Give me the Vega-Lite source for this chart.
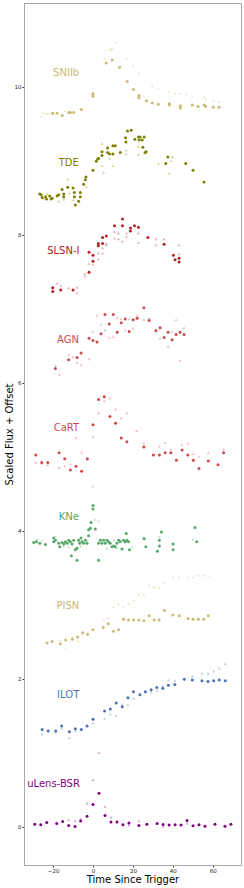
{
"$schema": "https://vega.github.io/schema/vega-lite/v6.json",
"autosize": "none",
"width": 217,
"height": 862,
"padding": {"left": 24, "top": 3, "right": 3, "bottom": 23},
"config": {
  "font": "DejaVu Sans",
  "view": {"stroke": "#a8a8a8", "strokeWidth": 1},
  "axis": {"grid": false, "domainColor": "#a8a8a8", "tickColor": "#333", "tickSize": 2, "labelFontSize": 5.5, "labelColor": "#222", "titleFontSize": 10, "titleFontWeight": "normal", "titleColor": "#000", "labelFont": "DejaVu Sans", "titleFont": "DejaVu Sans"}
},
"datasets": {
"pts": [
{"c":"SNIIb","k":"o","t":-20.2,"y":9.64},{"c":"SNIIb","k":"o","t":-18,"y":9.64},{"c":"SNIIb","k":"o","t":-15.5,"y":9.61},{"c":"SNIIb","k":"o","t":-12.2,"y":9.65},{"c":"SNIIb","k":"o","t":-11.3,"y":9.65},{"c":"SNIIb","k":"o","t":-9.7,"y":9.65},{"c":"SNIIb","k":"o","t":-5.8,"y":9.69},{"c":"SNIIb","k":"o","t":0,"y":9.9},{"c":"SNIIb","k":"o","t":0,"y":9.87},{"c":"SNIIb","k":"o","t":6.6,"y":10.32},{"c":"SNIIb","k":"o","t":9.65,"y":10.36},{"c":"SNIIb","k":"o","t":13.3,"y":10.26},{"c":"SNIIb","k":"o","t":17.2,"y":10.07},{"c":"SNIIb","k":"o","t":20.2,"y":9.96},{"c":"SNIIb","k":"o","t":23,"y":9.88},{"c":"SNIIb","k":"o","t":23,"y":9.85},{"c":"SNIIb","k":"o","t":26.8,"y":9.81},{"c":"SNIIb","k":"o","t":29.7,"y":9.78},{"c":"SNIIb","k":"o","t":32.7,"y":9.76},{"c":"SNIIb","k":"o","t":38.3,"y":9.77},{"c":"SNIIb","k":"o","t":38.3,"y":9.75},{"c":"SNIIb","k":"o","t":43.8,"y":9.74},{"c":"SNIIb","k":"o","t":43.8,"y":9.71},{"c":"SNIIb","k":"o","t":49.8,"y":9.75},{"c":"SNIIb","k":"o","t":52.7,"y":9.73},{"c":"SNIIb","k":"o","t":55.7,"y":9.75},{"c":"SNIIb","k":"o","t":56.5,"y":9.73},{"c":"SNIIb","k":"o","t":60.3,"y":9.72},{"c":"SNIIb","k":"o","t":63.2,"y":9.72},
{"c":"SNIIb","k":"t","t":-26,"y":9.6},{"c":"SNIIb","k":"t","t":-24.7,"y":9.64},{"c":"SNIIb","k":"t","t":-23,"y":9.64},{"c":"SNIIb","k":"t","t":-21.7,"y":9.64},{"c":"SNIIb","k":"t","t":-14.2,"y":9.67},{"c":"SNIIb","k":"t","t":-12.2,"y":9.66},{"c":"SNIIb","k":"t","t":0,"y":9.92},{"c":"SNIIb","k":"t","t":5.65,"y":10.38},{"c":"SNIIb","k":"t","t":8.65,"y":10.5},{"c":"SNIIb","k":"t","t":9.5,"y":10.52},{"c":"SNIIb","k":"t","t":11.5,"y":10.6},{"c":"SNIIb","k":"t","t":17.2,"y":10.38},{"c":"SNIIb","k":"t","t":20,"y":10.28},{"c":"SNIIb","k":"t","t":23,"y":10.18},{"c":"SNIIb","k":"t","t":29.7,"y":10.01},{"c":"SNIIb","k":"t","t":32.7,"y":9.98},{"c":"SNIIb","k":"t","t":38.3,"y":9.93},{"c":"SNIIb","k":"t","t":41.2,"y":9.91},{"c":"SNIIb","k":"t","t":43.8,"y":9.91},{"c":"SNIIb","k":"t","t":46.8,"y":9.9},{"c":"SNIIb","k":"t","t":49.8,"y":9.86},{"c":"SNIIb","k":"t","t":55.7,"y":9.86},{"c":"SNIIb","k":"t","t":56.5,"y":9.83},{"c":"SNIIb","k":"t","t":60.3,"y":9.81},{"c":"SNIIb","k":"t","t":63.2,"y":9.8},

{"c":"TDE","k":"o","t":-26.7,"y":8.55},{"c":"TDE","k":"o","t":-26,"y":8.54},{"c":"TDE","k":"o","t":-25.5,"y":8.5},{"c":"TDE","k":"o","t":-23.8,"y":8.51},{"c":"TDE","k":"o","t":-23.3,"y":8.48},{"c":"TDE","k":"o","t":-21.7,"y":8.52},{"c":"TDE","k":"o","t":-21,"y":8.48},{"c":"TDE","k":"o","t":-20.5,"y":8.49},{"c":"TDE","k":"o","t":-18,"y":8.52},{"c":"TDE","k":"o","t":-17.2,"y":8.54},{"c":"TDE","k":"o","t":-14.7,"y":8.55},{"c":"TDE","k":"o","t":-14.7,"y":8.51},{"c":"TDE","k":"o","t":-15.5,"y":8.61},{"c":"TDE","k":"o","t":-12.7,"y":8.64},{"c":"TDE","k":"o","t":-10,"y":8.63},{"c":"TDE","k":"o","t":-9.35,"y":8.57},{"c":"TDE","k":"o","t":-9.35,"y":8.51},{"c":"TDE","k":"o","t":-8.85,"y":8.4},{"c":"TDE","k":"o","t":-7.2,"y":8.45},{"c":"TDE","k":"o","t":-6.35,"y":8.57},{"c":"TDE","k":"o","t":-6.35,"y":8.51},{"c":"TDE","k":"o","t":-4.7,"y":8.68},{"c":"TDE","k":"o","t":-3.85,"y":8.74},{"c":"TDE","k":"o","t":-3.5,"y":8.78},{"c":"TDE","k":"o","t":0,"y":8.87},{"c":"TDE","k":"o","t":1.65,"y":8.99},{"c":"TDE","k":"o","t":2.3,"y":9.02},{"c":"TDE","k":"o","t":2.8,"y":9.03},{"c":"TDE","k":"o","t":4.5,"y":9.07},{"c":"TDE","k":"o","t":4.5,"y":9.12},{"c":"TDE","k":"o","t":7.3,"y":9.17},{"c":"TDE","k":"o","t":7.3,"y":9.11},{"c":"TDE","k":"o","t":8.3,"y":9.09},{"c":"TDE","k":"o","t":10,"y":9.2},{"c":"TDE","k":"o","t":11.15,"y":9.2},{"c":"TDE","k":"o","t":10,"y":9.09},{"c":"TDE","k":"o","t":13.65,"y":9.11},{"c":"TDE","k":"o","t":16.5,"y":9.25},{"c":"TDE","k":"o","t":16.3,"y":9.31},{"c":"TDE","k":"o","t":17.3,"y":9.4},{"c":"TDE","k":"o","t":19.15,"y":9.41},{"c":"TDE","k":"o","t":21,"y":9.29},{"c":"TDE","k":"o","t":22.8,"y":9.32},{"c":"TDE","k":"o","t":23.65,"y":9.32},{"c":"TDE","k":"o","t":25.65,"y":9.32},{"c":"TDE","k":"o","t":23.15,"y":9.28},{"c":"TDE","k":"o","t":24.65,"y":9.28},{"c":"TDE","k":"o","t":25,"y":9.18},{"c":"TDE","k":"o","t":26.15,"y":9.11},{"c":"TDE","k":"o","t":26.65,"y":9.12},{"c":"TDE","k":"o","t":36.5,"y":8.96},{"c":"TDE","k":"o","t":37.5,"y":9.05},{"c":"TDE","k":"o","t":46.5,"y":8.96},{"c":"TDE","k":"o","t":50.15,"y":8.87},{"c":"TDE","k":"o","t":55.65,"y":8.71},
{"c":"TDE","k":"t","t":-24.7,"y":8.49},{"c":"TDE","k":"t","t":-23,"y":8.55},{"c":"TDE","k":"t","t":-17.2,"y":8.45},{"c":"TDE","k":"t","t":-14.7,"y":8.48},{"c":"TDE","k":"t","t":-12.7,"y":8.75},{"c":"TDE","k":"t","t":-11.7,"y":8.56},{"c":"TDE","k":"t","t":-10,"y":8.47},{"c":"TDE","k":"t","t":-3.35,"y":8.65},{"c":"TDE","k":"t","t":4.5,"y":8.93},{"c":"TDE","k":"t","t":5.3,"y":8.84},{"c":"TDE","k":"t","t":4.5,"y":9.23},{"c":"TDE","k":"t","t":8.3,"y":9.03},{"c":"TDE","k":"t","t":10,"y":8.93},{"c":"TDE","k":"t","t":16.65,"y":9.14},{"c":"TDE","k":"t","t":16.65,"y":9.09},{"c":"TDE","k":"t","t":22.8,"y":9.19},{"c":"TDE","k":"t","t":22.8,"y":9.08},{"c":"TDE","k":"t","t":25.65,"y":9.1},{"c":"TDE","k":"t","t":32.8,"y":8.96},{"c":"TDE","k":"t","t":38.3,"y":8.83},{"c":"TDE","k":"t","t":39.15,"y":9.0},{"c":"TDE","k":"t","t":40,"y":9.05},

{"c":"SLSN-I","k":"o","t":-20.2,"y":7.28},{"c":"SLSN-I","k":"o","t":-20.2,"y":7.23},{"c":"SLSN-I","k":"o","t":-16.2,"y":7.25},{"c":"SLSN-I","k":"o","t":-10,"y":7.25},{"c":"SLSN-I","k":"o","t":-2,"y":7.49},{"c":"SLSN-I","k":"o","t":0,"y":7.64},{"c":"SLSN-I","k":"o","t":0,"y":7.72},{"c":"SLSN-I","k":"o","t":-2,"y":7.76},{"c":"SLSN-I","k":"o","t":2.65,"y":7.85},{"c":"SLSN-I","k":"o","t":2.65,"y":7.88},{"c":"SLSN-I","k":"o","t":4.8,"y":7.88},{"c":"SLSN-I","k":"o","t":4.8,"y":7.96},{"c":"SLSN-I","k":"o","t":6.65,"y":7.98},{"c":"SLSN-I","k":"o","t":10.8,"y":8.12},{"c":"SLSN-I","k":"o","t":14.8,"y":8.21},{"c":"SLSN-I","k":"o","t":14.8,"y":8.12},{"c":"SLSN-I","k":"o","t":18.8,"y":8.09},{"c":"SLSN-I","k":"o","t":18.8,"y":8.05},{"c":"SLSN-I","k":"o","t":20.8,"y":8.12},{"c":"SLSN-I","k":"o","t":22.8,"y":8.1},{"c":"SLSN-I","k":"o","t":27.5,"y":7.96},{"c":"SLSN-I","k":"o","t":35.65,"y":7.87},{"c":"SLSN-I","k":"o","t":40.3,"y":7.72},{"c":"SLSN-I","k":"o","t":41.15,"y":7.66},{"c":"SLSN-I","k":"o","t":43.15,"y":7.68},{"c":"SLSN-I","k":"o","t":43.15,"y":7.63},
{"c":"SLSN-I","k":"t","t":-18,"y":7.34},{"c":"SLSN-I","k":"t","t":-16.2,"y":7.31},{"c":"SLSN-I","k":"t","t":-12.2,"y":7.28},{"c":"SLSN-I","k":"t","t":-8,"y":7.29},{"c":"SLSN-I","k":"t","t":-8,"y":7.21},{"c":"SLSN-I","k":"t","t":-4,"y":7.47},{"c":"SLSN-I","k":"t","t":-4,"y":7.44},{"c":"SLSN-I","k":"t","t":-2,"y":7.61},{"c":"SLSN-I","k":"t","t":0,"y":7.6},{"c":"SLSN-I","k":"t","t":2.65,"y":7.67},{"c":"SLSN-I","k":"t","t":2.65,"y":7.75},{"c":"SLSN-I","k":"t","t":4.8,"y":7.75},{"c":"SLSN-I","k":"t","t":4.8,"y":7.82},{"c":"SLSN-I","k":"t","t":6.65,"y":7.88},{"c":"SLSN-I","k":"t","t":6.65,"y":7.86},{"c":"SLSN-I","k":"t","t":10.8,"y":8.04},{"c":"SLSN-I","k":"t","t":10.8,"y":7.95},{"c":"SLSN-I","k":"t","t":12.8,"y":8.02},{"c":"SLSN-I","k":"t","t":12.8,"y":7.94},{"c":"SLSN-I","k":"t","t":14.8,"y":7.91},{"c":"SLSN-I","k":"t","t":16.8,"y":8.02},{"c":"SLSN-I","k":"t","t":16.8,"y":7.97},{"c":"SLSN-I","k":"t","t":22.8,"y":8.02},{"c":"SLSN-I","k":"t","t":22.8,"y":7.89},{"c":"SLSN-I","k":"t","t":31.5,"y":7.94},{"c":"SLSN-I","k":"t","t":31.5,"y":7.86},{"c":"SLSN-I","k":"t","t":35.65,"y":7.94},{"c":"SLSN-I","k":"t","t":43.15,"y":7.86},{"c":"SLSN-I","k":"t","t":43.15,"y":7.74},

{"c":"AGN","k":"o","t":-18.85,"y":6.19},{"c":"AGN","k":"o","t":-12.2,"y":6.31},{"c":"AGN","k":"o","t":-8,"y":6.34},{"c":"AGN","k":"o","t":-6,"y":6.4},{"c":"AGN","k":"o","t":-2,"y":6.6},{"c":"AGN","k":"o","t":0,"y":6.57},{"c":"AGN","k":"o","t":2,"y":6.55},{"c":"AGN","k":"o","t":4,"y":6.66},{"c":"AGN","k":"o","t":6,"y":6.92},{"c":"AGN","k":"o","t":8.15,"y":6.79},{"c":"AGN","k":"o","t":10.15,"y":6.92},{"c":"AGN","k":"o","t":12.15,"y":6.68},{"c":"AGN","k":"o","t":14.15,"y":6.81},{"c":"AGN","k":"o","t":16.15,"y":6.86},{"c":"AGN","k":"o","t":18.15,"y":6.69},{"c":"AGN","k":"o","t":20.15,"y":6.85},{"c":"AGN","k":"o","t":22.15,"y":6.87},{"c":"AGN","k":"o","t":25.5,"y":7.01},{"c":"AGN","k":"o","t":28.15,"y":6.84},{"c":"AGN","k":"o","t":31.5,"y":6.7},{"c":"AGN","k":"o","t":33.65,"y":6.74},{"c":"AGN","k":"o","t":35.65,"y":6.61},{"c":"AGN","k":"o","t":37.65,"y":6.68},{"c":"AGN","k":"o","t":39.65,"y":6.58},{"c":"AGN","k":"o","t":41.65,"y":6.65},{"c":"AGN","k":"o","t":43.65,"y":6.68},{"c":"AGN","k":"o","t":45.65,"y":6.65},
{"c":"AGN","k":"t","t":-18.85,"y":6.23},{"c":"AGN","k":"t","t":-16.7,"y":6.11},{"c":"AGN","k":"t","t":-12.2,"y":6.38},{"c":"AGN","k":"t","t":-10,"y":6.35},{"c":"AGN","k":"t","t":-8,"y":6.27},{"c":"AGN","k":"t","t":-6,"y":6.24},{"c":"AGN","k":"t","t":-2,"y":6.32},{"c":"AGN","k":"t","t":0,"y":6.69},{"c":"AGN","k":"t","t":2,"y":6.91},{"c":"AGN","k":"t","t":4,"y":6.79},{"c":"AGN","k":"t","t":6,"y":6.71},{"c":"AGN","k":"t","t":8.15,"y":6.61},{"c":"AGN","k":"t","t":10.15,"y":6.62},{"c":"AGN","k":"t","t":12.15,"y":6.88},{"c":"AGN","k":"t","t":14.15,"y":6.86},{"c":"AGN","k":"t","t":16.15,"y":6.71},{"c":"AGN","k":"t","t":18.15,"y":6.86},{"c":"AGN","k":"t","t":20.15,"y":6.73},{"c":"AGN","k":"t","t":22.15,"y":6.91},{"c":"AGN","k":"t","t":25.5,"y":6.85},{"c":"AGN","k":"t","t":28.15,"y":6.87},{"c":"AGN","k":"t","t":31.5,"y":6.72},{"c":"AGN","k":"t","t":33.65,"y":6.6},{"c":"AGN","k":"t","t":37.65,"y":6.49},{"c":"AGN","k":"t","t":39.65,"y":6.69},{"c":"AGN","k":"t","t":41.65,"y":6.85},{"c":"AGN","k":"t","t":43.65,"y":6.3},{"c":"AGN","k":"t","t":45.65,"y":6.74},

{"c":"CaRT","k":"o","t":2.8,"y":5.77},{"c":"CaRT","k":"o","t":5.65,"y":5.81},{"c":"CaRT","k":"o","t":8.5,"y":5.54},{"c":"CaRT","k":"o","t":11.3,"y":5.45},{"c":"CaRT","k":"o","t":14.15,"y":5.25},{"c":"CaRT","k":"o","t":17,"y":5.2},{"c":"CaRT","k":"o","t":0,"y":5.43},{"c":"CaRT","k":"o","t":25.5,"y":5.13},{"c":"CaRT","k":"o","t":-28.7,"y":5.02},{"c":"CaRT","k":"o","t":-25.7,"y":4.92},{"c":"CaRT","k":"o","t":-22.7,"y":4.92},{"c":"CaRT","k":"o","t":-17,"y":5.05},{"c":"CaRT","k":"o","t":-14.2,"y":4.97},{"c":"CaRT","k":"o","t":-11.35,"y":4.82},{"c":"CaRT","k":"o","t":-8.5,"y":4.87},{"c":"CaRT","k":"o","t":-5.7,"y":4.8},{"c":"CaRT","k":"o","t":-2.85,"y":4.97},{"c":"CaRT","k":"o","t":30.3,"y":5.02},{"c":"CaRT","k":"o","t":33.3,"y":5.02},{"c":"CaRT","k":"o","t":36.15,"y":5.05},{"c":"CaRT","k":"o","t":39,"y":5.05},{"c":"CaRT","k":"o","t":41.8,"y":4.95},{"c":"CaRT","k":"o","t":44.65,"y":5.09},{"c":"CaRT","k":"o","t":47.5,"y":5.02},{"c":"CaRT","k":"o","t":50.3,"y":4.95},{"c":"CaRT","k":"o","t":53.15,"y":4.84},{"c":"CaRT","k":"o","t":57.8,"y":4.94},{"c":"CaRT","k":"o","t":62.65,"y":4.89},{"c":"CaRT","k":"o","t":65.5,"y":5.05},
{"c":"CaRT","k":"t","t":2.8,"y":5.59},{"c":"CaRT","k":"t","t":5.65,"y":5.75},{"c":"CaRT","k":"t","t":8.5,"y":5.79},{"c":"CaRT","k":"t","t":11.3,"y":5.64},{"c":"CaRT","k":"t","t":14.15,"y":5.52},{"c":"CaRT","k":"t","t":17,"y":5.59},{"c":"CaRT","k":"t","t":0,"y":5.27},{"c":"CaRT","k":"t","t":-8.5,"y":5.26},{"c":"CaRT","k":"t","t":21.8,"y":5.35},{"c":"CaRT","k":"t","t":25.5,"y":5.18},{"c":"CaRT","k":"t","t":33.3,"y":5.14},{"c":"CaRT","k":"t","t":36.15,"y":5.19},{"c":"CaRT","k":"t","t":44.65,"y":5.16},{"c":"CaRT","k":"t","t":47.5,"y":5.18},{"c":"CaRT","k":"t","t":65.5,"y":5.1},{"c":"CaRT","k":"t","t":-28.7,"y":4.92},{"c":"CaRT","k":"t","t":-25.7,"y":4.91},{"c":"CaRT","k":"t","t":-22.7,"y":4.89},{"c":"CaRT","k":"t","t":-17,"y":4.85},{"c":"CaRT","k":"t","t":-14.2,"y":4.87},{"c":"CaRT","k":"t","t":-11.35,"y":4.9},{"c":"CaRT","k":"t","t":-5.7,"y":5.06},{"c":"CaRT","k":"t","t":-2.85,"y":4.96},{"c":"CaRT","k":"t","t":39,"y":5.1},{"c":"CaRT","k":"t","t":53.15,"y":5.0},{"c":"CaRT","k":"t","t":57.8,"y":5.05},{"c":"CaRT","k":"t","t":50.3,"y":5.04},

{"c":"KNe","k":"o","t":-29.7,"y":3.84},{"c":"KNe","k":"o","t":-28.35,"y":3.85},{"c":"KNe","k":"o","t":-26.7,"y":3.83},{"c":"KNe","k":"o","t":-23.85,"y":3.81},{"c":"KNe","k":"o","t":-19.7,"y":3.9},{"c":"KNe","k":"o","t":-19.7,"y":3.85},{"c":"KNe","k":"o","t":-18.85,"y":3.87},{"c":"KNe","k":"o","t":-17.2,"y":3.83},{"c":"KNe","k":"o","t":-16.7,"y":3.78},{"c":"KNe","k":"o","t":-15.5,"y":3.84},{"c":"KNe","k":"o","t":-14.7,"y":3.82},{"c":"KNe","k":"o","t":-13.85,"y":3.85},{"c":"KNe","k":"o","t":-13,"y":3.83},{"c":"KNe","k":"o","t":-12.2,"y":3.87},{"c":"KNe","k":"o","t":-11.35,"y":3.85},{"c":"KNe","k":"o","t":-10.5,"y":3.82},{"c":"KNe","k":"o","t":-9.7,"y":3.87},{"c":"KNe","k":"o","t":-8.85,"y":3.74},{"c":"KNe","k":"o","t":-8,"y":3.76},{"c":"KNe","k":"o","t":-7.2,"y":3.87},{"c":"KNe","k":"o","t":-6.7,"y":3.83},{"c":"KNe","k":"o","t":-6,"y":3.9},{"c":"KNe","k":"o","t":-5.5,"y":3.85},{"c":"KNe","k":"o","t":-4.7,"y":3.83},{"c":"KNe","k":"o","t":-3.85,"y":3.87},{"c":"KNe","k":"o","t":-3,"y":3.83},{"c":"KNe","k":"o","t":-2.2,"y":3.93},{"c":"KNe","k":"o","t":-2.2,"y":4.01},{"c":"KNe","k":"o","t":-1.35,"y":4.03},{"c":"KNe","k":"o","t":-1,"y":4.11},{"c":"KNe","k":"o","t":0,"y":4.29},{"c":"KNe","k":"o","t":0,"y":4.34},{"c":"KNe","k":"o","t":1.15,"y":4.02},{"c":"KNe","k":"o","t":2.8,"y":3.83},{"c":"KNe","k":"o","t":3.65,"y":3.87},{"c":"KNe","k":"o","t":4.5,"y":3.83},{"c":"KNe","k":"o","t":5.3,"y":3.87},{"c":"KNe","k":"o","t":6.15,"y":3.83},{"c":"KNe","k":"o","t":7,"y":3.87},{"c":"KNe","k":"o","t":7.8,"y":3.85},{"c":"KNe","k":"o","t":8.65,"y":3.83},{"c":"KNe","k":"o","t":9.5,"y":3.78},{"c":"KNe","k":"o","t":10.3,"y":3.79},{"c":"KNe","k":"o","t":11.15,"y":3.78},{"c":"KNe","k":"o","t":12,"y":3.83},{"c":"KNe","k":"o","t":12.8,"y":3.87},{"c":"KNe","k":"o","t":13.65,"y":3.85},{"c":"KNe","k":"o","t":14.5,"y":3.75},{"c":"KNe","k":"o","t":15.3,"y":3.87},{"c":"KNe","k":"o","t":16.15,"y":3.85},{"c":"KNe","k":"o","t":16.65,"y":3.96},{"c":"KNe","k":"o","t":17,"y":3.87},{"c":"KNe","k":"o","t":17.8,"y":3.85},{"c":"KNe","k":"o","t":18.3,"y":3.74},{"c":"KNe","k":"o","t":-10.85,"y":3.66},{"c":"KNe","k":"o","t":-8,"y":3.6},{"c":"KNe","k":"o","t":2.8,"y":3.6},{"c":"KNe","k":"o","t":25.65,"y":3.89},{"c":"KNe","k":"o","t":26.5,"y":3.78},{"c":"KNe","k":"o","t":32.3,"y":3.72},{"c":"KNe","k":"o","t":33.3,"y":3.87},{"c":"KNe","k":"o","t":33.3,"y":3.79},{"c":"KNe","k":"o","t":34.3,"y":3.98},{"c":"KNe","k":"o","t":40.15,"y":3.82},{"c":"KNe","k":"o","t":40.15,"y":3.74},{"c":"KNe","k":"o","t":51.15,"y":4.04},{"c":"KNe","k":"o","t":52,"y":3.85},
{"c":"KNe","k":"t","t":0,"y":4.6},{"c":"KNe","k":"t","t":1.15,"y":4.15},{"c":"KNe","k":"t","t":2.8,"y":4.13},{"c":"KNe","k":"t","t":-28,"y":3.88},{"c":"KNe","k":"t","t":-25.5,"y":3.87},{"c":"KNe","k":"t","t":-18.85,"y":3.92},{"c":"KNe","k":"t","t":-14.7,"y":3.79},{"c":"KNe","k":"t","t":-12.2,"y":3.78},{"c":"KNe","k":"t","t":-6.35,"y":3.79},{"c":"KNe","k":"t","t":-3,"y":3.87},{"c":"KNe","k":"t","t":3.65,"y":3.89},{"c":"KNe","k":"t","t":7,"y":3.76},{"c":"KNe","k":"t","t":10.3,"y":3.87},{"c":"KNe","k":"t","t":12,"y":3.76},{"c":"KNe","k":"t","t":13.65,"y":3.88},{"c":"KNe","k":"t","t":15,"y":3.76},{"c":"KNe","k":"t","t":19.5,"y":3.78},{"c":"KNe","k":"t","t":25.3,"y":3.9},{"c":"KNe","k":"t","t":33.3,"y":3.92},{"c":"KNe","k":"t","t":40.3,"y":3.82},{"c":"KNe","k":"t","t":50,"y":3.88},

{"c":"PISN","k":"o","t":-23,"y":2.48},{"c":"PISN","k":"o","t":-20.5,"y":2.5},{"c":"PISN","k":"o","t":-16.35,"y":2.47},{"c":"PISN","k":"o","t":-13.7,"y":2.52},{"c":"PISN","k":"o","t":-10.35,"y":2.53},{"c":"PISN","k":"o","t":-7.7,"y":2.56},{"c":"PISN","k":"o","t":-5.2,"y":2.62},{"c":"PISN","k":"o","t":-2.7,"y":2.6},{"c":"PISN","k":"o","t":0,"y":2.66},{"c":"PISN","k":"o","t":5.15,"y":2.69},{"c":"PISN","k":"o","t":7.65,"y":2.74},{"c":"PISN","k":"o","t":10.3,"y":2.64},{"c":"PISN","k":"o","t":12.8,"y":2.66},{"c":"PISN","k":"o","t":15.3,"y":2.8},{"c":"PISN","k":"o","t":17.8,"y":2.79},{"c":"PISN","k":"o","t":20.3,"y":2.79},{"c":"PISN","k":"o","t":23,"y":2.79},{"c":"PISN","k":"o","t":25.5,"y":2.78},{"c":"PISN","k":"o","t":28.15,"y":2.85},{"c":"PISN","k":"o","t":30.65,"y":2.79},{"c":"PISN","k":"o","t":33.15,"y":2.79},{"c":"PISN","k":"o","t":35.8,"y":2.92},{"c":"PISN","k":"o","t":40,"y":2.86},{"c":"PISN","k":"o","t":43.3,"y":2.85},{"c":"PISN","k":"o","t":47.65,"y":2.81},{"c":"PISN","k":"o","t":50.15,"y":2.8},{"c":"PISN","k":"o","t":52.8,"y":2.8},{"c":"PISN","k":"o","t":55.5,"y":2.8},{"c":"PISN","k":"o","t":57.8,"y":2.85},
{"c":"PISN","k":"t","t":-16.35,"y":2.52},{"c":"PISN","k":"t","t":-13.7,"y":2.4},{"c":"PISN","k":"t","t":-10.35,"y":2.57},{"c":"PISN","k":"t","t":-7.7,"y":2.51},{"c":"PISN","k":"t","t":-5.2,"y":2.6},{"c":"PISN","k":"t","t":5.15,"y":2.8},{"c":"PISN","k":"t","t":7.65,"y":2.82},{"c":"PISN","k":"t","t":10.3,"y":2.97},{"c":"PISN","k":"t","t":12.8,"y":3.01},{"c":"PISN","k":"t","t":15.3,"y":2.97},{"c":"PISN","k":"t","t":17.8,"y":3.01},{"c":"PISN","k":"t","t":20.3,"y":3.06},{"c":"PISN","k":"t","t":23,"y":3.14},{"c":"PISN","k":"t","t":25.5,"y":3.13},{"c":"PISN","k":"t","t":28.15,"y":3.26},{"c":"PISN","k":"t","t":30.65,"y":3.24},{"c":"PISN","k":"t","t":33.15,"y":3.23},{"c":"PISN","k":"t","t":35.8,"y":3.3},{"c":"PISN","k":"t","t":40,"y":3.37},{"c":"PISN","k":"t","t":43.3,"y":3.37},{"c":"PISN","k":"t","t":47.65,"y":3.37},{"c":"PISN","k":"t","t":50.15,"y":3.37},{"c":"PISN","k":"t","t":52.8,"y":3.4},{"c":"PISN","k":"t","t":55.5,"y":3.4},{"c":"PISN","k":"t","t":57.8,"y":3.39},

{"c":"ILOT","k":"o","t":-25.5,"y":1.31},{"c":"ILOT","k":"o","t":-22.5,"y":1.29},{"c":"ILOT","k":"o","t":-18.7,"y":1.29},{"c":"ILOT","k":"o","t":-15.7,"y":1.36},{"c":"ILOT","k":"o","t":-11.85,"y":1.28},{"c":"ILOT","k":"o","t":-8.85,"y":1.32},{"c":"ILOT","k":"o","t":-5.85,"y":1.31},{"c":"ILOT","k":"o","t":-3,"y":1.36},{"c":"ILOT","k":"o","t":0,"y":1.45},{"c":"ILOT","k":"o","t":5.8,"y":1.56},{"c":"ILOT","k":"o","t":8.65,"y":1.59},{"c":"ILOT","k":"o","t":11.65,"y":1.67},{"c":"ILOT","k":"o","t":14.65,"y":1.62},{"c":"ILOT","k":"o","t":17.5,"y":1.74},{"c":"ILOT","k":"o","t":20.3,"y":1.82},{"c":"ILOT","k":"o","t":23.5,"y":1.78},{"c":"ILOT","k":"o","t":26.3,"y":1.82},{"c":"ILOT","k":"o","t":29.15,"y":1.85},{"c":"ILOT","k":"o","t":32,"y":1.88},{"c":"ILOT","k":"o","t":35,"y":1.87},{"c":"ILOT","k":"o","t":37.8,"y":1.91},{"c":"ILOT","k":"o","t":41,"y":1.92},{"c":"ILOT","k":"o","t":45.8,"y":1.99},{"c":"ILOT","k":"o","t":49.8,"y":1.98},{"c":"ILOT","k":"o","t":54.65,"y":1.97},{"c":"ILOT","k":"o","t":57.65,"y":1.96},{"c":"ILOT","k":"o","t":60.5,"y":1.97},{"c":"ILOT","k":"o","t":63.3,"y":1.98},{"c":"ILOT","k":"o","t":66.3,"y":1.97},
{"c":"ILOT","k":"t","t":-25.5,"y":1.25},{"c":"ILOT","k":"t","t":-22.5,"y":1.3},{"c":"ILOT","k":"t","t":-18.7,"y":1.27},{"c":"ILOT","k":"t","t":-15.7,"y":1.33},{"c":"ILOT","k":"t","t":-11.85,"y":1.2},{"c":"ILOT","k":"t","t":-8.85,"y":1.29},{"c":"ILOT","k":"t","t":0,"y":1.4},{"c":"ILOT","k":"t","t":5.8,"y":1.46},{"c":"ILOT","k":"t","t":8.65,"y":1.52},{"c":"ILOT","k":"t","t":11.65,"y":1.5},{"c":"ILOT","k":"t","t":14.65,"y":1.65},{"c":"ILOT","k":"t","t":17.5,"y":1.65},{"c":"ILOT","k":"t","t":20.3,"y":1.73},{"c":"ILOT","k":"t","t":26.3,"y":1.82},{"c":"ILOT","k":"t","t":29.15,"y":1.82},{"c":"ILOT","k":"t","t":32,"y":1.84},{"c":"ILOT","k":"t","t":35,"y":1.9},{"c":"ILOT","k":"t","t":37.8,"y":1.98},{"c":"ILOT","k":"t","t":41,"y":1.97},{"c":"ILOT","k":"t","t":49.8,"y":2.03},{"c":"ILOT","k":"t","t":54.65,"y":2.07},{"c":"ILOT","k":"t","t":57.65,"y":2.07},{"c":"ILOT","k":"t","t":60.5,"y":2.1},{"c":"ILOT","k":"t","t":63.3,"y":2.14},{"c":"ILOT","k":"t","t":66.3,"y":2.2},

{"c":"uLens-BSR","k":"o","t":-29.2,"y":0.032},{"c":"uLens-BSR","k":"o","t":-26.2,"y":0.023},{"c":"uLens-BSR","k":"o","t":-23.2,"y":0.055},{"c":"uLens-BSR","k":"o","t":-18.2,"y":0.041},{"c":"uLens-BSR","k":"o","t":-15.2,"y":0.068},{"c":"uLens-BSR","k":"o","t":-12.2,"y":0.014},{"c":"uLens-BSR","k":"o","t":-9,"y":0.0},{"c":"uLens-BSR","k":"o","t":-6.2,"y":0.073},{"c":"uLens-BSR","k":"o","t":-3,"y":0.14},{"c":"uLens-BSR","k":"o","t":0,"y":0.298},{"c":"uLens-BSR","k":"o","t":3,"y":0.45},{"c":"uLens-BSR","k":"o","t":6,"y":0.15},{"c":"uLens-BSR","k":"o","t":9,"y":0.06},{"c":"uLens-BSR","k":"o","t":12,"y":0.06},{"c":"uLens-BSR","k":"o","t":15,"y":0.023},{"c":"uLens-BSR","k":"o","t":18,"y":0.046},{"c":"uLens-BSR","k":"o","t":23,"y":0.014},{"c":"uLens-BSR","k":"o","t":27,"y":0.032},{"c":"uLens-BSR","k":"o","t":32.15,"y":0.041},{"c":"uLens-BSR","k":"o","t":35.15,"y":0.028},{"c":"uLens-BSR","k":"o","t":38.15,"y":0.019},{"c":"uLens-BSR","k":"o","t":41.15,"y":0.023},{"c":"uLens-BSR","k":"o","t":44.15,"y":0.019},{"c":"uLens-BSR","k":"o","t":47.15,"y":0.082},{"c":"uLens-BSR","k":"o","t":50.15,"y":0.01},{"c":"uLens-BSR","k":"o","t":53.15,"y":0.023},{"c":"uLens-BSR","k":"o","t":56.15,"y":0.005},{"c":"uLens-BSR","k":"o","t":61.15,"y":0.032},{"c":"uLens-BSR","k":"o","t":66.15,"y":0.005},{"c":"uLens-BSR","k":"o","t":69.15,"y":0.032},
{"c":"uLens-BSR","k":"t","t":-12.2,"y":0.091},{"c":"uLens-BSR","k":"t","t":-9,"y":0.077},{"c":"uLens-BSR","k":"t","t":-6.2,"y":0.109},{"c":"uLens-BSR","k":"t","t":-3,"y":0.316},{"c":"uLens-BSR","k":"t","t":0,"y":0.631},{"c":"uLens-BSR","k":"t","t":3,"y":1.0},{"c":"uLens-BSR","k":"t","t":6,"y":0.271},{"c":"uLens-BSR","k":"t","t":9,"y":0.127},{"c":"uLens-BSR","k":"t","t":18,"y":0.019},{"c":"uLens-BSR","k":"t","t":23,"y":0.077},{"c":"uLens-BSR","k":"t","t":35.15,"y":0.0},{"c":"uLens-BSR","k":"t","t":47.15,"y":0.046}
],
"labels": [
{"c":"SNIIb","t":-20,"y":10.18},
{"c":"TDE","t":-17.2,"y":8.97},
{"c":"SLSN-I","t":-23,"y":7.78},
{"c":"AGN","t":-18,"y":6.58},
{"c":"CaRT","t":-19.7,"y":5.38},
{"c":"KNe","t":-17.2,"y":4.18},
{"c":"PISN","t":-18.35,"y":2.98},
{"c":"ILOT","t":-18,"y":1.78},
{"c":"uLens-BSR","t":-33,"y":0.57}
]
},
"layer": [
{
  "data": {"name": "pts"},
  "mark": {"type": "point", "filled": true, "size": 9, "strokeWidth": 0},
  "encoding": {
    "x": {"field": "t", "type": "quantitative", "title": "Time Since Trigger",
          "scale": {"domain": [-34.6, 74.2], "nice": false, "zero": false},
          "axis": {"values": [-20, 0, 20, 40, 60], "format": "d", "labelPadding": 1, "titlePadding": 1}},
    "y": {"field": "y", "type": "quantitative", "title": "Scaled Flux + Offset",
          "scale": {"domain": [-0.52, 11.13], "nice": false, "zero": false},
          "axis": {"values": [0, 2, 4, 6, 8, 10], "format": "d", "labelPadding": 1, "titleX": -12, "titleBaseline": "alphabetic"}},
    "color": {"field": "c", "type": "nominal", "legend": null,
      "scale": {"domain": ["SNIIb","TDE","SLSN-I","AGN","CaRT","KNe","PISN","ILOT","uLens-BSR"],
                "range": ["#CCB974","#808000","#B22222","#C44E52","#D04848","#55A868","#CCB974","#4C72B0","#800080"]}},
    "shape": {"field": "k", "type": "nominal", "legend": null,
      "scale": {"domain": ["o","t"], "range": ["circle","triangle-up"]}},
    "opacity": {"field": "k", "type": "nominal", "legend": null,
      "scale": {"domain": ["o","t"], "range": [1, 0.35]}},
    "order": {"field": "k", "type": "nominal", "sort": "descending"}
  }
},
{
  "data": {"name": "labels"},
  "mark": {"type": "text", "align": "left", "baseline": "middle", "fontSize": 10, "font": "DejaVu Sans"},
  "encoding": {
    "x": {"field": "t", "type": "quantitative"},
    "y": {"field": "y", "type": "quantitative"},
    "text": {"field": "c"},
    "color": {"field": "c", "type": "nominal", "legend": null}
  }
}
]
}
